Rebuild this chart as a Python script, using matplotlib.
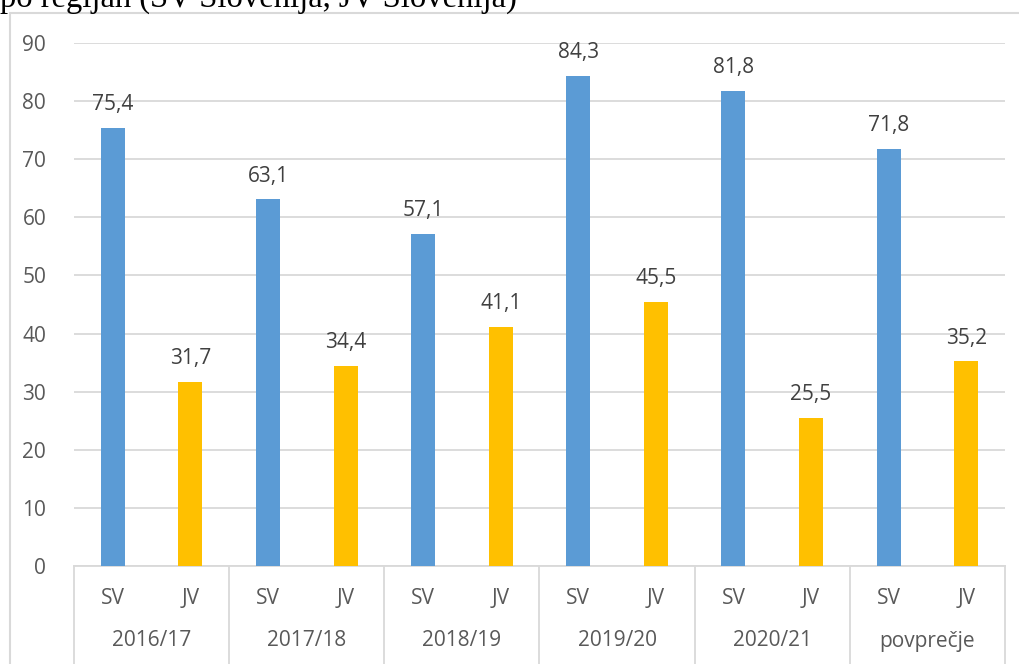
"""
Stolpčni diagram po regijah (SV / JV Slovenija).
"""

import numpy as np
import matplotlib.pyplot as plt
from matplotlib.patches import Rectangle

leta = ["2016/17", "2017/18", "2018/19", "2019/20", "2020/21", "povprečje"]
regije = ["SV", "JV"]
sv = [75.4, 63.1, 57.1, 84.3, 81.8, 71.8]
jv = [31.7, 34.4, 41.1, 45.5, 25.5, 35.2]
yticks = [0, 10, 20, 30, 40, 50, 60, 70, 80, 90]


def plot_regije():
    plt.rcParams['font.family'] = ['Open Sans', 'DejaVu Sans']
    fig = plt.figure(figsize=(10.19, 6.64), dpi=100)
    W, H = 1019, 664
    ax = fig.add_axes([74 / W, 98 / H, (1005 - 74) / W, (566 - 43) / H])

    n = len(leta)
    vrednosti = []
    barve = []
    for s, j in zip(sv, jv):
        vrednosti += [s, j]
        barve += ['#5B9BD5', '#FFC000']
    x = np.arange(2 * n)
    ax.bar(x, vrednosti, width=0.31, color=barve, zorder=3)
    for xi, v in zip(x, vrednosti):
        ax.text(xi, v + 2.2, f"{v:.1f}".replace('.', ','), ha='center', va='bottom',
                fontsize=15, color='#404040')

    ax.set_xlim(-0.5, 2 * n - 0.5)
    ax.set_ylim(0, 90)
    ax.set_yticks(yticks)
    ax.tick_params(axis='y', length=0, labelsize=15, labelcolor='#595959', pad=20)
    ax.set_xticks([])
    ax.grid(axis='y', color='#d9d9d9', lw=1.3, zorder=0)
    for sp in ['top', 'right', 'left']:
        ax.spines[sp].set_visible(False)
    ax.spines['bottom'].set_color('#d9d9d9')
    ax.spines['bottom'].set_linewidth(1.3)

    # dvonivojska os x
    trans = ax.get_xaxis_transform()
    for i in range(2 * n):
        ax.text(i, -32 / 523, regije[i % 2], transform=trans, ha='center',
                va='center', fontsize=15, color='#595959')
    for g in range(n):
        ax.text(2 * g + 0.5, -75 / 523, leta[g], transform=trans, ha='center',
                va='center', fontsize=15, color='#595959')
    for g in range(n + 1):
        ax.plot([2 * g - 0.5, 2 * g - 0.5], [0, -100 / 523], transform=trans,
                color='#d9d9d9', lw=1.3, clip_on=False)

    # okvir grafikona
    fig.patches.append(Rectangle((10 / W, -0.1), 1.2, 1 - 13 / H + 0.1,
                                 transform=fig.transFigure, fill=False,
                                 edgecolor='#d9d9d9', lw=1.5))
    fig.text(0.0, 1 - 7 / H, "po regijah (SV Slovenija, JV Slovenija)",
             family='Liberation Serif', fontsize=23.5, ha='left', va='baseline',
             color='black')
    return fig


if __name__ == "__main__":
    fig = plot_regije()
    fig.savefig("out.png", dpi=100)
